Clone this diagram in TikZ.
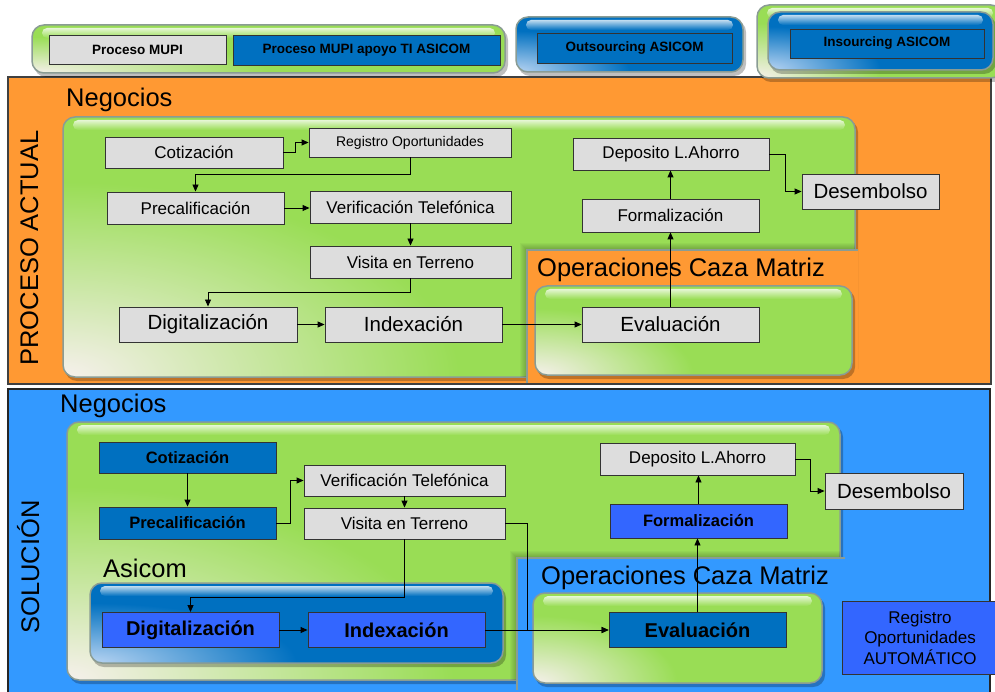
\documentclass[tikz,border=0pt]{standalone}
\usepackage{fontspec}
\setmainfont{Liberation Sans}
\usetikzlibrary{arrows.meta}

\definecolor{orangebg}{HTML}{FF9933}
\definecolor{bluebg}{HTML}{3399FF}
\definecolor{leaf}{HTML}{99DD55}
\definecolor{boxgray}{HTML}{DDDDDD}
\definecolor{deepblue}{HTML}{0070C0}
\definecolor{brightblue}{HTML}{3366FF}
\definecolor{bevel}{HTML}{8A9C94}
\definecolor{leaffade}{HTML}{F6F0EC}
\definecolor{bluefade}{HTML}{B8D4F2}

% glossy rounded panel: x1, y1, x2, y2, fill colour, fade colour
\newcommand{\glosspanel}[6]{%
  \fill[black,opacity=.25,rounded corners=12] (#1+2,#2+3) rectangle (#3+3,#4+4);
  \fill[#5,rounded corners=12] (#1,#2) rectangle (#3,#4);
  \begin{scope}
    \clip[rounded corners=12] (#1,#2) rectangle (#3,#4);
    \shade[inner color=#6, outer color=#5] (#1,#4) ellipse [x radius={0.5*(#3-#1)}, y radius={0.75*(#4-#2)}];
    \shade[top color=#5!25!white, bottom color=#5, rounded corners=5] (#1+10,#2+3) rectangle (#3-10,#2+13);
  \end{scope}
  \draw[bevel,line width=1.5,rounded corners=12] (#1,#2) rectangle (#3,#4);
}

% soft shadow cast inside a panel by a cut-out corner starting at (x,y)
\newcommand{\softcut}[2]{%
  \foreach \k in {1,...,7} {
    \fill[black,opacity=.035] (#1-\k,#2-\k) rectangle (#1+400,#2+200);
  }
}

\tikzset{
  box/.style={draw=black!80, line width=0.9pt, inner sep=0pt, align=center, text=black},
  gbox/.style={box, fill=boxgray},
  dbox/.style={box, fill=deepblue},
  bbox/.style={box, fill=brightblue},
  tsmall/.style={font=\fontsize{14}{16}\selectfont},
  tmid/.style={font=\fontsize{17}{20}\selectfont},
  tbig/.style={font=\fontsize{20.5}{24}\selectfont},
  bmid/.style={font=\bfseries\fontsize{16.5}{19}\selectfont},
  bbig/.style={font=\bfseries\fontsize{20}{24}\selectfont},
  legend/.style={font=\bfseries\fontsize{13.5}{16}\selectfont},
  title/.style={font=\fontsize{25.5}{30}\selectfont, inner sep=0pt},
  flow/.style={draw=black, line width=0.9pt, -{Triangle[length=7pt,width=6pt]}},
}

\begin{document}
\begin{tikzpicture}[x=1pt,y=-1pt]
\useasboundingbox (0,0) rectangle (995,692);
\fill[white] (0,0) rectangle (995,692);

% section backgrounds
\filldraw[fill=orangebg, draw=black!75, line width=1.2] (8,77) rectangle (991,384);
\filldraw[fill=bluebg, draw=black!85, line width=1.2] (8,389) rectangle (990,705);

% legend
\glosspanel{32}{25}{505}{73}{leaf}{leaffade}
\glosspanel{516}{17}{743}{72}{deepblue}{bluefade}
\glosspanel{757}{5}{1003}{78}{leaf}{leaffade}
\glosspanel{768}{12}{993}{70}{deepblue}{bluefade}
\node[gbox, legend, minimum width=177, minimum height=29] (mupi) at (137.5,49.5) {Proceso MUPI};
\node[dbox, legend, minimum width=267, minimum height=30] (apoyo) at (366.5,50) {Proceso MUPI apoyo TI ASICOM};
\node[dbox, legend, minimum width=195, minimum height=30] (outs) at (634.5,48) {Outsourcing ASICOM};
\node[dbox, legend, minimum width=194, minimum height=29] (ins) at (887,43.5) {Insourcing ASICOM};

% ---------- current process ----------
\glosspanel{63}{117}{855}{377}{leaf}{leaffade}
\begin{scope}
  \clip[rounded corners=12] (63,117) rectangle (855,377);
  \softcut{527}{250}
\end{scope}
\fill[orangebg] (527,250) rectangle (858,383.4);
\draw[bevel,line width=1.5] (527,383.4) -- (527,250) -- (858,250);
\glosspanel{535}{286}{852}{375}{leaf}{leaffade}

\node[title, rotate=90, anchor=base] (actual) at (38,248) {PROCESO ACTUAL};
\node[title, anchor=base west] (neg1) at (66,107) {Negocios};
\node[title, anchor=base west] (ops1) at (537,277) {Operaciones Caza Matriz};

\node[gbox, tmid, minimum width=178, minimum height=31] (cot1) at (194,152.5) {Cotización};
\node[gbox, tsmall, minimum width=202, minimum height=29] (reg1) at (410,142.5) {Registro Oportunidades};
\node[gbox, tmid, minimum width=177, minimum height=32] (pre1) at (195.5,208) {Precalificación};
\node[gbox, tmid, minimum width=201, minimum height=32] (ver1) at (410.5,207) {Verificación Telefónica};
\node[gbox, tmid, minimum width=201, minimum height=32] (vis1) at (410.5,262) {Visita en Terreno};
\node[gbox, tbig, minimum width=178, minimum height=35] (dig1) at (208,324.5) {Digitalización};
\node[gbox, tbig, minimum width=177, minimum height=35] (idx1) at (413.5,324.5) {Indexación};
\node[gbox, tbig, minimum width=177, minimum height=35] (eva1) at (670.5,324.5) {Evaluación};
\node[gbox, tmid, minimum width=177, minimum height=33] (for1) at (670.5,215.5) {Formalización};
\node[gbox, tmid, minimum width=196, minimum height=32] (dep1) at (671,154) {Deposito L.Ahorro};
\node[gbox, tbig, minimum width=137, minimum height=35] (des1) at (870.5,191.5) {Desembolso};

\draw[flow] (cot1.east) -- ++(12,0) |- (reg1.west);
\draw[flow] (reg1.south) -- ++(0,17) -| (pre1.north);
\draw[flow] (pre1.east) -- (pre1.east -| ver1.west);
\draw[flow] (ver1.south) -- (vis1.north);
\draw[flow] (vis1.south) -- ++(0,14) -| (dig1.north);
\draw[flow] (dig1.east) -- (idx1.west);
\draw[flow] (idx1.east) -- (eva1.west);
\draw[flow] (eva1.north) -- (for1.south);
\draw[flow] (for1.north) -- (for1.north |- dep1.south);
\draw[flow] (dep1.east) -- ++(16,0) |- (des1.west);

% ---------- solution ----------
\glosspanel{67}{422}{840}{680}{leaf}{leaffade}
\begin{scope}
  \clip[rounded corners=12] (67,422) rectangle (840,680);
  \softcut{517}{558}
\end{scope}
\fill[bluebg] (517,558) rectangle (845,690);
\draw[bevel,line width=1.5] (517,690) -- (517,558) -- (845,558);
\glosspanel{90}{583}{503}{663}{deepblue}{bluefade}
\glosspanel{533}{593}{822}{683}{leaf}{leaffade}

\node[title, rotate=90, anchor=base] (sol) at (39,567) {SOLUCIÓN};
\node[title, anchor=base west] (neg2) at (60,412) {Negocios};
\node[title, anchor=base west] (asi) at (103,577) {Asicom};
\node[title, anchor=base west] (ops2) at (541,584) {Operaciones Caza Matriz};

\node[dbox, bmid, minimum width=177, minimum height=31] (cot2) at (187.5,457.5) {Cotización};
\node[dbox, bmid, minimum width=177, minimum height=32] (pre2) at (187.5,523) {Precalificación};
\node[gbox, tmid, minimum width=201, minimum height=31] (ver2) at (404.5,480.5) {Verificación Telefónica};
\node[gbox, tmid, minimum width=201, minimum height=31] (vis2) at (404.5,523.5) {Visita en Terreno};
\node[bbox, bbig, minimum width=177, minimum height=35] (dig2) at (190.5,630) {Digitalización};
\node[bbox, bbig, minimum width=177, minimum height=35] (idx2) at (396.5,630) {Indexación};
\node[dbox, bbig, minimum width=177, minimum height=35] (eva2) at (697.5,630) {Evaluación};
\node[bbox, bmid, minimum width=177, minimum height=34] (for2) at (698.5,521) {Formalización};
\node[gbox, tmid, minimum width=195, minimum height=32] (dep2) at (697.5,459) {Deposito L.Ahorro};
\node[gbox, tbig, minimum width=138, minimum height=36] (des2) at (894,491) {Desembolso};
\node[bbox, font=\fontsize{17}{20.5}\selectfont, minimum width=156, minimum height=73] (reg2) at (920,637.5) {Registro\\Oportunidades\\AUTOMÁTICO};

\draw[flow] (cot2.south) -- (pre2.north);
\draw[flow] (pre2.east) -- ++(14,0) |- (ver2.west);
\draw[flow] (ver2.south) -- (vis2.north);
\draw[flow] (vis2.south) -- ++(0,58) -| (dig2.north);
\draw[flow] (dig2.east) -- (idx2.west);
\draw[flow] (idx2.east) -- (eva2.west);
\draw[flow] (vis2.east) -- ++(22,0) |- (eva2.west);
\draw[flow] (eva2.north) -- (eva2.north |- for2.south);
\draw[flow] (for2.north) -- (for2.north |- dep2.south);
\draw[flow] (dep2.east) -- ++(15,0) |- (des2.west);
\end{tikzpicture}
\end{document}
